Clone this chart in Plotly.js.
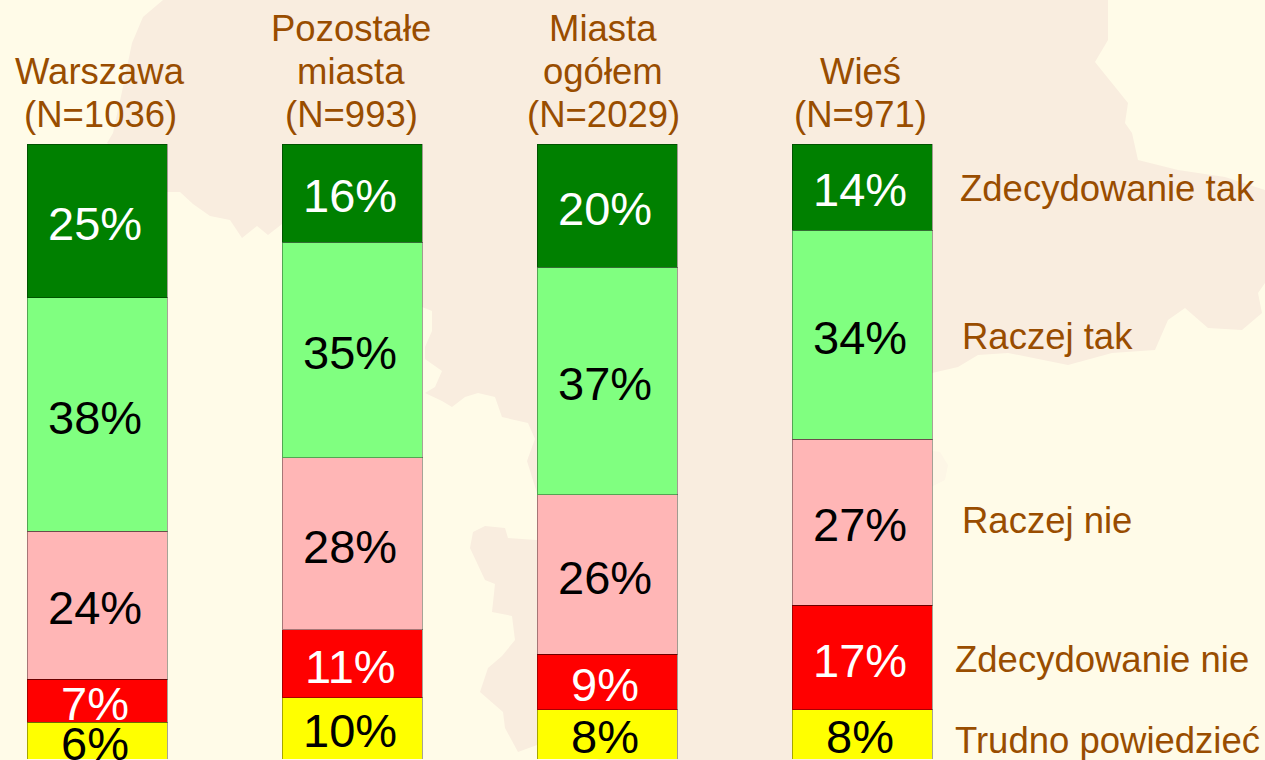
<!DOCTYPE html>
<html><head><meta charset="utf-8">
<script src="https://cdn.plot.ly/plotly-3.0.1.min.js"></script>
<style>html,body{margin:0;padding:0;background:#FFFBE8;overflow:hidden}</style>
</head><body><div id="chart" style="width:1265px;height:760px"></div>
<script>
const categories = ["Warszawa","Pozostałe miasta","Miasta ogółem","Wieś"];
const headerLine1 = ["","Pozostałe","Miasta",""];
const headerLine2 = ["Warszawa","miasta","ogółem","Wieś"];
const headerLine3 = ["(N=1036)","(N=993)","(N=2029)","(N=971)"];
const trudnoPowiedziec = [6,10,8,8];
const zdecydowanieNie = [7,11,9,17];
const raczejNie = [24,28,26,27];
const raczejTak = [38,35,37,34];
const zdecydowanieTak = [25,16,20,14];

const W = 1265, H = 760, TOP = 144, BOTTOM = 1;
const seriesList = [
  {name:"Trudno powiedzieć", values:trudnoPowiedziec, color:"#FFFF00", label:"#000000", px:953, py:740},
  {name:"Zdecydowanie nie", values:zdecydowanieNie, color:"#FF0000", label:"#FFFFFF", px:953, py:659},
  {name:"Raczej nie", values:raczejNie, color:"#FFB6B6", label:"#000000", px:960, py:520},
  {name:"Raczej tak", values:raczejTak, color:"#80FF80", label:"#000000", px:960, py:336},
  {name:"Zdecydowanie tak", values:zdecydowanieTak, color:"#008000", label:"#FFFFFF", px:958, py:188}
];
const TEXT = "#994D00", FONT = "Liberation Sans, Arial, sans-serif";

const traces = seriesList.map(s => ({
  type:"bar", name:s.name, x:categories, y:s.values,
  marker:{color:s.color, line:{color:"rgba(0,0,0,0.35)", width:1}},
  hoverinfo:"x+y+name"
}));

const annotations = [];
const cum = categories.map(() => 0);
seriesList.forEach(s => {
  s.values.forEach((v,i) => {
    annotations.push({x:categories[i], xref:"x", y:cum[i]+v/2, yref:"y", text:v+"%", showarrow:false,
      xanchor:"center", yanchor:"middle", xshift:-2, yshift:-2.5, font:{family:FONT,size:47,color:s.label}});
    cum[i] += v;
  });
  annotations.push({x:s.px/W, xref:"paper", y:(H-BOTTOM-s.py)/(H-TOP-BOTTOM), yref:"paper", text:s.name, showarrow:false,
    xanchor:"left", yanchor:"middle", font:{family:FONT,size:36.5,color:TEXT}});
});
const headerShift = [3,-1,-4,-2];
[[headerLine1,116],[headerLine2,73],[headerLine3,30]].forEach(([lines,dy]) => {
  lines.forEach((t,i) => { if(t) annotations.push({x:categories[i], xref:"x", y:100, yref:"y", text:t, showarrow:false,
    xanchor:"center", yanchor:"middle", xshift:headerShift[i], yshift:dy, font:{family:FONT,size:36.5,color:TEXT}}); });
});

// Faint map of Poland behind the chart (page pixels)
const mapOutline = [[163,0],[1108,0],[1108,40],[1095,62],[1128,103],[1125,123],[1132,133],[1138,160],[1178,170],[1225,177],[1265,190],[1265,283],[1258,293],[1262,313],[1242,330],[1208,328],[1185,308],[1168,320],[1155,350],[1112,353],[1068,365],[1008,353],[978,355],[958,367],[932,373],[860,373],[860,760],[600,760],[537,745],[518,752],[505,728],[503,712],[480,692],[488,668],[502,656],[515,640],[512,616],[492,612],[495,584],[485,580],[470,548],[473,532],[485,526],[505,528],[508,538],[536,540],[600,540],[600,500],[537,493],[527,461],[535,439],[528,423],[502,417],[495,397],[478,393],[465,397],[452,407],[442,401],[425,393],[435,387],[442,371],[425,359],[425,347],[432,331],[432,311],[422,307],[360,290],[282,224],[268,235],[257,226],[242,238],[230,220],[210,216],[193,204],[180,192],[167,192],[107,143],[113,133],[123,87],[132,43],[143,17]];
const mapBump = [[925,450],[940,452],[948,465],[945,480],[925,490]];
const toPath = pts => pts.map((p,i)=>(i?"L":"M")+(p[0]/W).toFixed(5)+" "+((H-BOTTOM-p[1])/(H-TOP-BOTTOM)).toFixed(5)).join(" ")+" Z";

const layout = {
  width:W, height:H, autosize:false, barmode:"stack", bargap:1-140/255, showlegend:false,
  margin:{l:0,r:0,t:TOP,b:BOTTOM,pad:0},
  paper_bgcolor:"#FFFBE8", plot_bgcolor:"rgba(0,0,0,0)",
  xaxis:{visible:false, type:"category", range:[-97/255,(W-97)/255], fixedrange:true},
  yaxis:{visible:false, range:[0,100], fixedrange:true},
  shapes:[
    {type:"path", xref:"paper", yref:"paper", layer:"below", path:toPath(mapOutline), fillcolor:"#F9EDDF", line:{width:0}},
    {type:"path", xref:"paper", yref:"paper", layer:"below", path:toPath(mapBump), fillcolor:"#FDF6E6", line:{width:0}}
  ],
  annotations:annotations
};
Plotly.newPlot("chart", traces, layout, {displayModeBar:false, responsive:false});
</script></body></html>
